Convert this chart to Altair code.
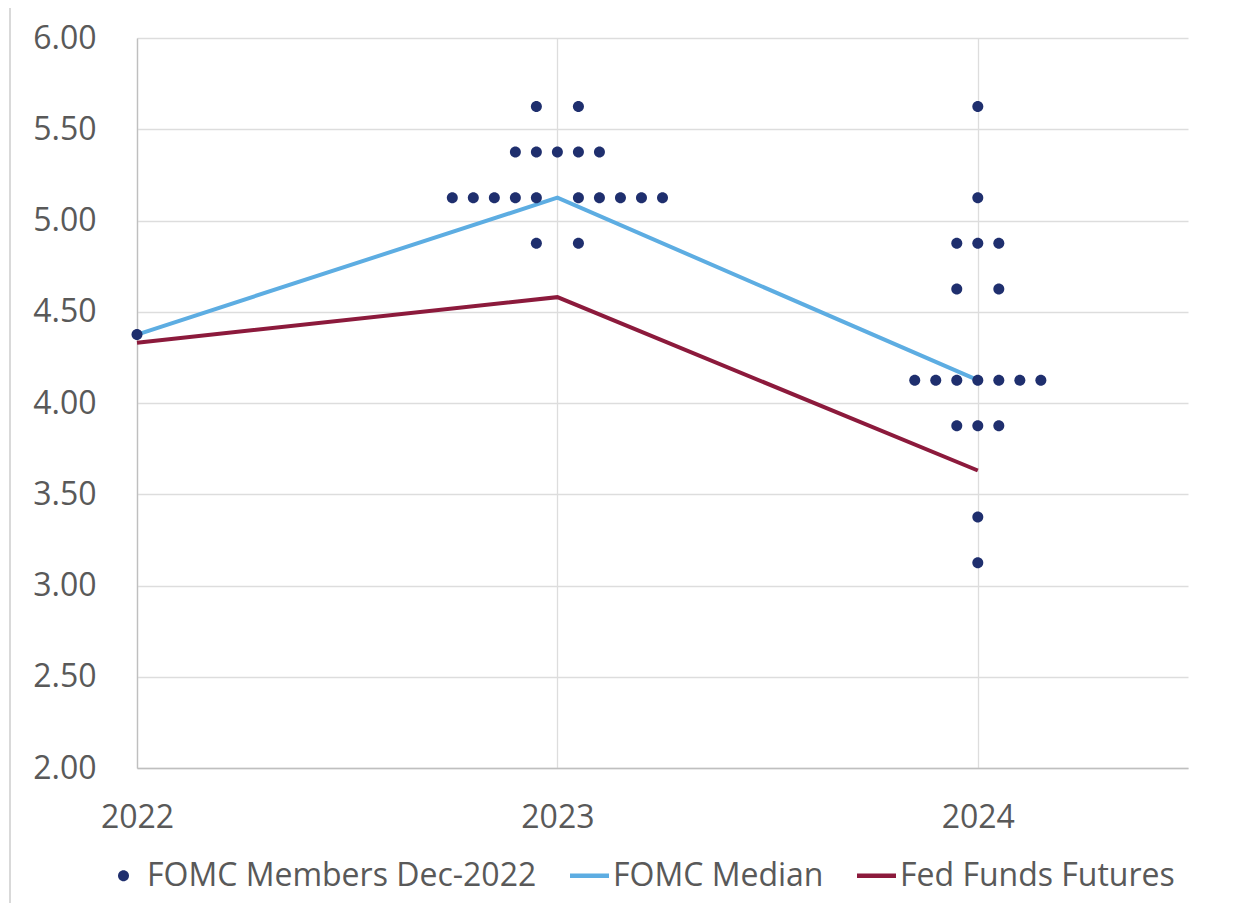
import altair as alt
import pandas as pd

# ---- data ----
years = [2022, 2023, 2024]
fomc_median = [4.375, 5.125, 4.125]
fed_funds_futures = [4.33, 4.58, 3.63]

# dot plot: (year, rate, number of FOMC members)
dot_years = [2022, 2023, 2023, 2023, 2023, 2024, 2024, 2024, 2024, 2024, 2024, 2024, 2024]
dot_rates = [4.375, 5.625, 5.375, 5.125, 4.875, 5.625, 5.125, 4.875, 4.625, 4.125, 3.875, 3.375, 3.125]
dot_counts = [1, 2, 5, 10, 2, 1, 1, 3, 2, 7, 3, 1, 1]

series_names = ["FOMC Members Dec-2022", "FOMC Median", "Fed Funds Futures"]
series_colors = ["#1F2F6E", "#5DADE2", "#8C1A3C"]
y_ticks = [2.0, 2.5, 3.0, 3.5, 4.0, 4.5, 5.0, 5.5, 6.0]

# ---- layout helpers ----
SPACING = 0.05  # horizontal spacing between stacked dots (in years)


def offsets(n):
    if n % 2:
        return list(range(-(n // 2), n // 2 + 1))
    return [k for k in range(-(n // 2), n // 2 + 1) if k != 0]


rows = []
for yr, rt, n in zip(dot_years, dot_rates, dot_counts):
    for k in offsets(n):
        rows.append({"x": yr + k * SPACING, "rate": rt, "series": series_names[0]})
dots_df = pd.DataFrame(rows)
median_df = pd.DataFrame({"x": years, "rate": fomc_median})
futures_df = pd.DataFrame({"x": years, "rate": fed_funds_futures})

circle_path = "M0.282,0A0.282,0.282 0 1,1 -0.282,0A0.282,0.282 0 1,1 0.282,0Z"
line_path = "M-1,-0.12L1,-0.12L1,0.12L-1,0.12Z"
shapes = [circle_path, line_path, line_path]

x_scale = alt.Scale(domain=[2022, 2024.5], nice=False, zero=False)
y_scale = alt.Scale(domain=[2, 6], nice=False, zero=False)
x_axis = alt.Axis(values=years, format="d", title=None, grid=True, ticks=False,
                  labelFlush=False, labelPadding=34, domainColor="#BFBFBF", domainWidth=1.3)
y_axis = alt.Axis(values=y_ticks, format=".2f", title=None, grid=True, ticks=False,
                  labelFlush=False, labelPadding=41, domainColor="#BFBFBF", domainWidth=1.3)

legend = alt.Legend(title=None, orient="none", legendX=-33, legendY=818,
                    direction="horizontal")

X = alt.X("x:Q", scale=x_scale, axis=x_axis)
Y = alt.Y("rate:Q", scale=y_scale, axis=y_axis)

border_left = alt.Chart(median_df).mark_rule(color="#D9D9D9", strokeWidth=1.5).encode(
    x=alt.value(-127), y=alt.value(-32), y2=alt.value(900)
)
border_top = alt.Chart(median_df).mark_rule(color="#D9D9D9", strokeWidth=1.5).encode(
    x=alt.value(-127), x2=alt.value(1200), y=alt.value(-32)
)

median_line = alt.Chart(median_df).mark_line(color=series_colors[1], strokeWidth=4).encode(x=X, y=Y)
futures_line = alt.Chart(futures_df).mark_line(color=series_colors[2], strokeWidth=4).encode(x=X, y=Y)

points = alt.Chart(dots_df).mark_point(filled=True, size=1521, opacity=1, strokeWidth=0).encode(
    x=X,
    y=Y,
    color=alt.Color("series:N", scale=alt.Scale(domain=series_names, range=series_colors), legend=legend),
    shape=alt.Shape("series:N", scale=alt.Scale(domain=series_names, range=shapes), legend=legend),
)

chart = (
    alt.layer(border_left, border_top, median_line, futures_line, points)
    .properties(
        width=1051,
        height=730,
        autosize=alt.AutoSizeParams(type="none"),
        padding={"left": 129, "top": 30, "right": 47, "bottom": 135},
    )
    .configure_view(stroke=None)
    .configure_axis(
        labelFont="Open Sans",
        labelFontSize=32,
        labelColor="#595959",
        gridColor="#DDDDDD",
        gridWidth=1.3,
    )
    .configure_legend(
        labelFont="Open Sans",
        labelFontSize=32,
        labelColor="#595959",
        labelLimit=800,
        labelOffset=4,
        columnPadding=33,
        padding=0,
        symbolSize=1521,
        symbolStrokeWidth=0,
    )
)

chart.save("out.html", embed_options={"renderer": "svg", "actions": False})
